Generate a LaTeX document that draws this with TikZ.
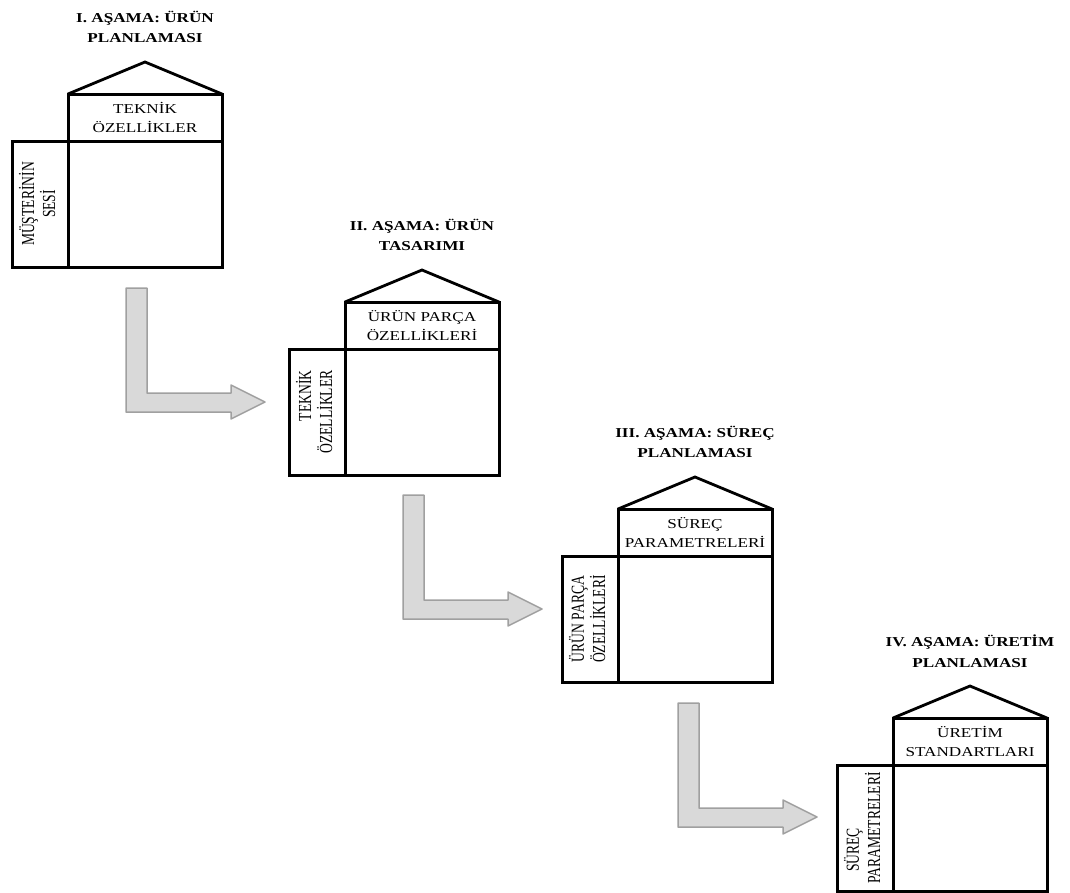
\documentclass[tikz,border=0pt]{standalone}
\usepackage{fontspec}
\setmainfont{Liberation Serif}[FakeStretch=1.26]
\newfontfamily\vertfont{Liberation Serif}
\usetikzlibrary{calc}
\definecolor{arrowfill}{HTML}{D9D9D9}
\definecolor{arrowdraw}{HTML}{A0A0A0}
\tikzset{
  boxline/.style={draw=black, line width=3pt, inner sep=0pt, outer sep=0pt},
  topbox/.style={boxline, minimum width=154pt, minimum height=47pt, align=center,
    font=\fontsize{13.6}{19}\selectfont},
  mainbox/.style={boxline, minimum width=154pt, minimum height=126pt},
  leftbox/.style={boxline, minimum width=56pt, minimum height=126pt},
  vtext/.style={rotate=90, inner sep=0pt, font=\vertfont\fontsize{13.6}{14.8}\selectfont},
  roof/.style={line width=2.8pt, line join=miter},
  stagetitle/.style={align=center, inner sep=0pt, font=\bfseries\fontsize{13.6}{20.5}\selectfont},
  larrow/.style={fill=arrowfill, draw=arrowdraw, line width=1.5pt, line join=round},
}
\newcommand{\qfdstage}[6]{%
  \node[topbox, anchor=north west] (#1top) at (#2,#3) {#5};
  \node[mainbox, anchor=north west] (#1main) at (#1top.south west) {};
  \node[leftbox, anchor=north east] (#1left) at (#1main.north west) {};
  \node[vtext] (#1ltext) at (#1left.center) {\scalebox{1}[1.35]{#6}};
  \coordinate (#1apex) at ($(#1top.north)+(0,-32)$);
  \draw[roof] (#1top.north west) -- (#1apex) -- (#1top.north east);
  \node[stagetitle] (#1title) at ($(#1top.north)+(0,-67)$) {#4};
}
\newcommand{\qfdarrow}[1]{%
  \draw[larrow, shift={(#1)}] (0,0) -- (21,0) -- (21,105) -- (105,105) -- (105,97)
    -- (139,114) -- (105,131) -- (105,124) -- (0,124) -- cycle;
}
\begin{document}
\begin{tikzpicture}[x=1pt,y=-1pt]
  \useasboundingbox (0,0) rectangle (1070,892);

  \qfdstage{s1}{68}{94}{I. AŞAMA: ÜRÜN\\PLANLAMASI}{TEKNİK\\ÖZELLİKLER}%
    {\begin{tabular}{@{}c@{}}MÜŞTERİNİN\\SESİ\end{tabular}}
  \qfdstage{s2}{345}{302}{II. AŞAMA: ÜRÜN\\TASARIMI}{ÜRÜN PARÇA\\ÖZELLİKLERİ}%
    {\begin{tabular}{@{}r@{}}TEKNİK\\ÖZELLİKLER\end{tabular}}
  \qfdstage{s3}{618}{509}{III. AŞAMA: SÜREÇ\\PLANLAMASI}{SÜREÇ\\PARAMETRELERİ}%
    {\begin{tabular}{@{}c@{}}ÜRÜN PARÇA\\ÖZELLİKLERİ\end{tabular}}
  \qfdstage{s4}{893}{718}{IV. AŞAMA: ÜRETİM\\PLANLAMASI}{ÜRETİM\\STANDARTLARI}%
    {\begin{tabular}{@{}c@{}}SÜREÇ\hspace*{44pt}\\PARAMETRELERİ\end{tabular}}

  \coordinate (a1) at (126,288);
  \coordinate (a2) at (403,495);
  \coordinate (a3) at (678,703);
  \qfdarrow{a1}
  \qfdarrow{a2}
  \qfdarrow{a3}
\end{tikzpicture}
\end{document}
